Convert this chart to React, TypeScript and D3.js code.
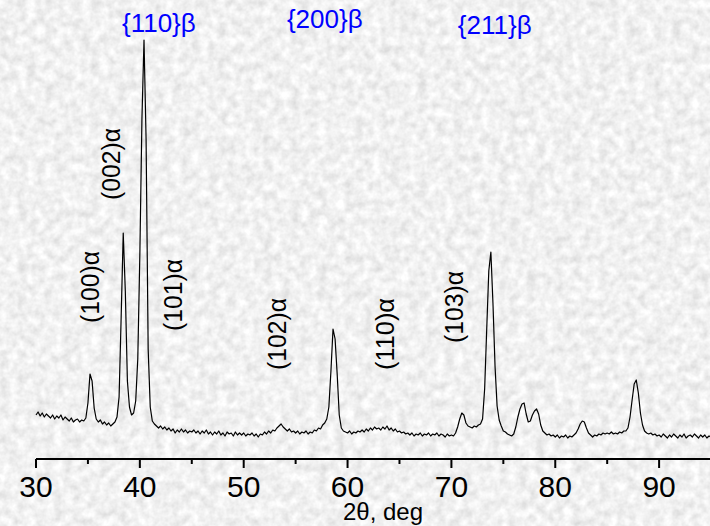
import React from "react";
import * as d3 from "d3";

// XRD scan, 2θ from 30° in 0.2° steps, intensity in a.u.
const startAngle = 30;
const angleStep = 0.2;

const i30 = [44, 47, 43, 46, 42, 45, 43, 41, 44, 40, 43, 41, 44, 39, 42, 40, 38, 41, 37, 39, 40, 37, 39, 38, 41];
const i35 = [56, 85, 78, 51, 40, 37, 39, 35, 37, 34, 36, 33, 35, 37, 42, 62, 142, 226, 168, 78, 52, 44, 46, 58, 100];
const i40 = [205, 340, 419, 320, 110, 52, 38, 35, 33, 31, 33, 30, 32, 29, 31, 28, 30, 26, 29, 27, 30, 27, 29, 26, 28];
const i45 = [27, 29, 26, 28, 25, 28, 26, 29, 25, 27, 24, 27, 25, 28, 24, 26, 23, 27, 25, 26, 23, 27, 24, 26, 24];
const i50 = [26, 23, 25, 24, 26, 23, 25, 22, 25, 24, 27, 25, 28, 26, 29, 28, 31, 33, 35, 32, 30, 28, 30, 27, 28];
const i55 = [26, 28, 25, 27, 26, 28, 25, 27, 26, 29, 28, 31, 30, 34, 36, 40, 52, 88, 130, 120, 85, 44, 31, 28, 27];
const i60 = [26, 28, 25, 27, 26, 28, 27, 29, 27, 30, 28, 31, 29, 32, 30, 31, 29, 32, 30, 33, 29, 31, 28, 30, 27];
const i65 = [28, 26, 27, 25, 26, 24, 26, 23, 25, 24, 26, 23, 25, 24, 26, 23, 25, 24, 26, 23, 25, 24, 22, 25, 23];
const i70 = [24, 23, 26, 32, 40, 46, 44, 36, 33, 32, 31, 33, 32, 34, 35, 40, 70, 130, 188, 207, 156, 93, 53, 39, 33];
const i75 = [28, 27, 25, 24, 23, 25, 32, 42, 50, 55, 56, 45, 37, 38, 44, 48, 50, 45, 34, 28, 26, 24, 25, 23, 24];
const i80 = [22, 24, 21, 23, 22, 24, 21, 23, 22, 24, 26, 30, 35, 38, 37, 31, 26, 24, 22, 24, 23, 25, 24, 26, 25];
const i85 = [26, 25, 27, 25, 26, 25, 27, 26, 28, 28, 31, 42, 59, 75, 79, 66, 46, 34, 28, 26, 25, 26, 24, 25, 23];
const i90 = [24, 22, 25, 23, 21, 24, 22, 25, 23, 21, 24, 22, 25, 21, 23, 24, 22, 25, 23, 21, 24, 22, 24, 21, 23, 22];

const intensity = [...i30, ...i35, ...i40, ...i45, ...i50, ...i55, ...i60, ...i65, ...i70, ...i75, ...i80, ...i85, ...i90];

const majorTicks = [30, 40, 50, 60, 70, 80, 90];
const minorTicks = [35, 45, 55, 65, 75, 85];

// alpha-phase reflections (rotated labels), anchored at 2θ / intensity
const alphaLabels = ["(100)α", "(002)α", "(101)α", "(102)α", "(110)α", "(103)α"];
const alphaAt = [36.1, 38.09, 44.06, 54.07, 64.52, 71.12];
const alphaLevel = [136, 259, 128, 89, 89, 116];

// beta-phase reflections (blue)
const betaLabels = ["{110}β", "{200}β", "{211}β"];
const betaAt = [38.28, 54.16, 70.62];
const betaLevel = [427, 431, 425];

const width = 710;
const height = 526;
const font = "'Liberation Sans', Arial, sans-serif";

export default function App() {
  const x = d3.scaleLinear().domain([30, 94.9]).range([36, 710]);
  const y = d3.scaleLinear().domain([0, 419]).range([459, 40]);
  const axisY = y(0);

  const points: [number, number][] = intensity.map((v, i) => [startAngle + i * angleStep, v]);
  const line = d3
    .line<[number, number]>()
    .x((d) => x(d[0]))
    .y((d) => y(d[1]));

  return (
    <svg
      width={width}
      height={height}
      style={{ position: "absolute", left: 0, top: 0, display: "block" }}
      fontFamily={font}
    >
      <defs>
        <filter id="marble" x="0" y="0" width="100%" height="100%">
          <feTurbulence type="fractalNoise" baseFrequency="0.11" numOctaves={3} seed={4} />
          <feColorMatrix
            type="matrix"
            values="0.42 0 0 0 0.67  0.42 0 0 0 0.67  0.42 0 0 0 0.67  0 0 0 0 1"
          />
        </filter>
      </defs>
      <rect width={width} height={height} fill="#dcdcdc" filter="url(#marble)" />

      <path d={line(points) || ""} fill="none" stroke="#000" strokeWidth={1.2} strokeLinejoin="round" />

      {/* x axis */}
      <line x1={x(30)} x2={width} y1={axisY} y2={axisY} stroke="#000" strokeWidth={2} />
      {majorTicks.map((t) => (
        <g key={"M" + t}>
          <line x1={x(t)} x2={x(t)} y1={axisY} y2={axisY + 9} stroke="#000" strokeWidth={2} />
          <text x={x(t)} y={497} textAnchor="middle" fontSize={30} fill="#000">
            {t}
          </text>
        </g>
      ))}
      {minorTicks.map((t) => (
        <line key={"m" + t} x1={x(t)} x2={x(t)} y1={axisY} y2={axisY + 5} stroke="#000" strokeWidth={2} />
      ))}
      <text x={383} y={520} textAnchor="middle" fontSize={24} fill="#000">
        2θ, deg
      </text>

      {alphaLabels.map((s, i) => (
        <text
          key={s}
          transform={`translate(${x(alphaAt[i])},${y(alphaLevel[i])}) rotate(-90)`}
          fontSize={25}
          textLength={72}
          lengthAdjust="spacingAndGlyphs"
          fill="#000"
        >
          {s}
        </text>
      ))}
      {betaLabels.map((s, i) => (
        <text key={s} x={x(betaAt[i])} y={y(betaLevel[i])} fontSize={26} fill="#0000ff">
          {s}
        </text>
      ))}
    </svg>
  );
}
